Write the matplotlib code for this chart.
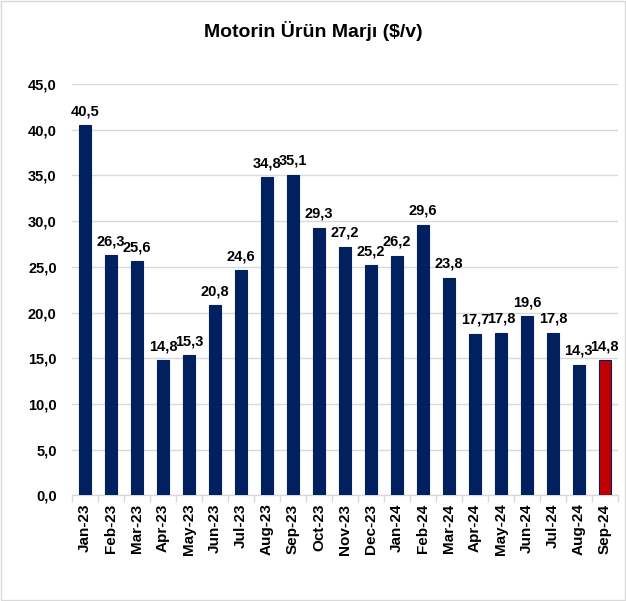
import matplotlib
matplotlib.use("Agg")
import matplotlib.pyplot as plt
from matplotlib.patches import Rectangle
import numpy as np

categories = ["Jan-23", "Feb-23", "Mar-23", "Apr-23", "May-23", "Jun-23", "Jul-23",
              "Aug-23", "Sep-23", "Oct-23", "Nov-23", "Dec-23", "Jan-24", "Feb-24",
              "Mar-24", "Apr-24", "May-24", "Jun-24", "Jul-24", "Aug-24", "Sep-24"]
values = [40.5, 26.3, 25.6, 14.8, 15.3, 20.8, 24.6, 34.8, 35.1, 29.3, 27.2, 25.2,
          26.2, 29.6, 23.8, 17.7, 17.8, 19.6, 17.8, 14.3, 14.8]
yticks = [0, 5, 10, 15, 20, 25, 30, 35, 40, 45]
title = "Motorin Ürün Marjı ($/v)"

plt.rcParams['font.family'] = ['Liberation Sans', 'DejaVu Sans']

fig = plt.figure(figsize=(6.26, 6.01), dpi=100)
ax = fig.add_axes([0.115, 0.176, 0.872, 0.684])

navy = "#002060"
red = "#C00000"
colors = [navy] * (len(values) - 1) + [red]
x = np.arange(len(values))
ax.bar(x, values, width=0.44, color=colors, edgecolor=navy, linewidth=0.8, zorder=3)

for xi, v in zip(x, values):
    ax.annotate(f"{v:.1f}".replace(".", ","), (xi, v), xytext=(0, 5),
                textcoords="offset points", ha="center", va="bottom",
                fontsize=10.5, fontweight="bold", zorder=4)

ax.set_ylim(0, 45)
ax.set_xlim(-0.5, len(values) - 0.5)
ax.set_yticks(yticks)
ax.set_yticklabels([f"{t:.1f}".replace(".", ",") for t in yticks], fontsize=10.5, fontweight="bold")
ax.grid(axis="y", color="#D9D9D9", linewidth=1, zorder=0)
ax.tick_params(axis="y", length=0, pad=11)

ax.set_xticks(x)
ax.set_xticklabels(categories, rotation=90, fontsize=11, fontweight="bold")
ax.tick_params(axis="x", length=0, pad=6)
ax.set_xticks(np.arange(-0.5, len(values), 1), minor=True)
ax.tick_params(axis="x", which="minor", length=5, color="#D9D9D9", width=1)

for s in ["top", "right", "left"]:
    ax.spines[s].set_visible(False)
ax.spines["bottom"].set_color("#D9D9D9")
ax.spines["bottom"].set_linewidth(1)

fig.text(0.5, 0.949, title, ha="center", va="center", fontsize=14, fontweight="bold")

fig.patches.append(Rectangle((0.002, 0.002), 0.996, 0.996, transform=fig.transFigure,
                             fill=False, edgecolor="#D9D9D9", linewidth=1))

fig.savefig("out.png", dpi=100)
